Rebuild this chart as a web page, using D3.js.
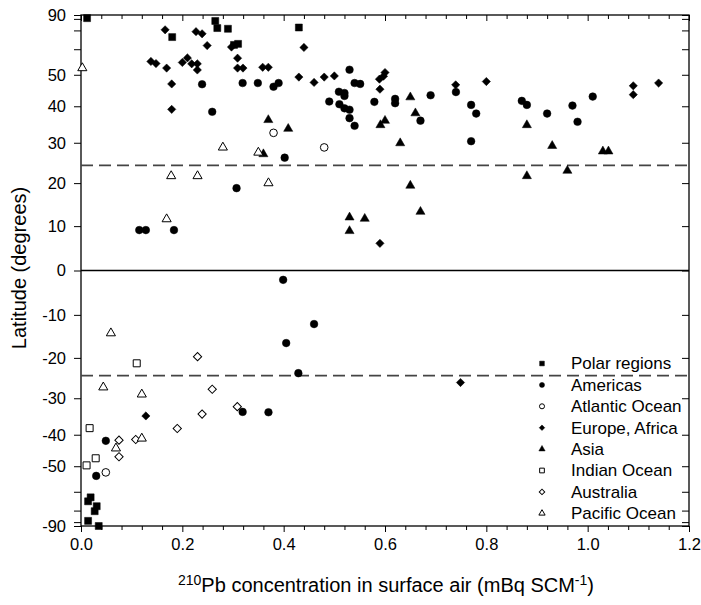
<!DOCTYPE html>
<html><head><meta charset="utf-8">
<script src="https://cdn.jsdelivr.net/npm/d3@7"></script>
<style>body{margin:0;background:#fff}svg{display:block}text{font-family:"Liberation Sans",Arial,sans-serif;fill:#000}</style>
</head><body><svg id="c" width="701" height="605"></svg>
<script>
// ---- data: [concentration (mBq SCM-1), latitude (deg)] ----
const polar = [[0.012,81],[0.18,66],[0.265,77.6],[0.269,71.6],[0.29,71.1],[0.302,62],[0.31,62.5],[0.43,72],
  [0.019,-62.6],[0.014,-64.6],[0.031,-67.3],[0.027,-70.4],[0.014,-78.5],[0.035,-89.5]];
const americas = [[0.239,46.8],[0.259,38.4],[0.307,18.8],[0.319,47.2],[0.349,47.2],[0.38,46.0],[0.39,47.2],[0.402,26.2],
  [0.53,51.8],[0.509,44.4],[0.52,44.0],[0.52,43.1],[0.49,41.4],[0.51,40.6],[0.52,39.4],[0.53,39.0],[0.53,36.6],[0.54,34.5],
  [0.54,47.2],[0.551,46.9],[0.579,41.3],[0.62,42.2],[0.62,40.9],[0.67,35.9],[0.69,43.3],[0.74,44.3],[0.77,40.4],[0.78,37.9],
  [0.77,30.4],[0.87,41.6],[0.88,40.4],[0.92,37.9],[0.97,40.2],[0.98,35.6],[1.01,42.9],[0.115,9.1],[0.128,9.1],[0.1835,9.1],
  [0.399,-2.1],[0.46,-12.1],[0.405,-16.5],[0.429,-23.7],[0.319,-33.6],[0.37,-33.7],[0.049,-41.8],[0.03,-53.5]];
const atlantic = [[0.38,32.6],[0.48,28.8],[0.049,-52.2]];
const europeAfrica = [[0.166,70.4],[0.227,69.2],[0.239,67.9],[0.249,61.7],[0.297,61.0],[0.138,54.9],[0.148,54.1],[0.169,52.4],
  [0.200,54.5],[0.210,56.3],[0.2185,54.0],[0.2296,54.0],[0.2296,51.7],[0.179,46.9],[0.179,39.1],[0.309,56.2],[0.309,52.4],
  [0.3197,52.4],[0.3586,52.7],[0.3697,52.7],[0.44,60.8],[0.43,49.2],[0.46,47.4],[0.48,49.2],[0.50,49.6],[0.589,48.5],
  [0.60,50.8],[0.597,49.5],[0.59,45.2],[0.7395,46.6],[0.80,47.7],[1.09,46.3],[1.09,43.5],[1.14,47.2],[0.59,6.1],
  [0.749,-26.0],[0.128,-34.7]];
const asia = [[0.3697,36.1],[0.409,33.7],[0.36,27.1],[0.65,42.7],[0.66,38.0],[0.60,35.9],[0.591,34.7],[0.63,29.9],[0.65,19.4],
  [0.88,34.7],[0.88,21.7],[0.93,29.2],[0.96,23.0],[1.03,27.8],[1.041,27.8],[0.53,12.0],[0.56,11.7],[0.53,8.9],[0.67,13.3]];
const indian = [[0.11,-21.3],[0.017,-38.1],[0.029,-47.3],[0.011,-49.7]];
const australia = [[0.23,-19.7],[0.259,-27.7],[0.239,-34.2],[0.19,-38.2],[0.108,-41.4],[0.075,-41.6],[0.075,-46.8],[0.3085,-32.2]];
const pacific = [[0.0026,52.4],[0.28,28.8],[0.178,21.7],[0.23,21.7],[0.35,27.5],[0.37,20.0],[0.169,11.6],[0.059,-14.2],
  [0.044,-27.2],[0.12,-29.0],[0.12,-41.1],[0.069,-44.1]];

const seriesNames = ["Polar regions","Americas","Atlantic Ocean","Europe, Africa","Asia","Indian Ocean","Australia","Pacific Ocean"];
const seriesData = [polar, americas, atlantic, europeAfrica, asia, indian, australia, pacific];
const seriesShape = ["square","circle","circle","diamond","triangle","square","diamond","triangle"];
const seriesFilled = [true,true,false,true,true,false,false,false];

const xTickValues = [0,0.2,0.4,0.6,0.8,1.0,1.2];
const xMinorTicks = d3.range(0,1.2001,0.04);
const latTicks = d3.range(-90,91,10);
const latLabels = [-90,-50,-40,-30,-20,-10,0,10,20,30,40,50,90];
const tropicLat = 24.3;

// ---- layout ----
const L=81, R=689, T=15, B=526;
const svg = d3.select("#c");
const rad = Math.PI/180;
const x = d3.scaleLinear().domain([0,1.2]).range([L,R]);
const ys = d3.scaleLinear().domain([-1,1]).range([B,T]); // sine-of-latitude scale
const y = lat => ys(Math.sin(lat*rad));
const isMinor = v => Math.abs(v/0.2-Math.round(v/0.2))>1e-6;

// axes
svg.append("g").attr("transform",`translate(0,${B})`)
  .call(d3.axisBottom(x).tickValues(xTickValues).tickFormat(d3.format(".1f")).tickSize(6).tickPadding(6));
svg.append("g").attr("transform",`translate(0,${B})`)
  .call(d3.axisBottom(x).tickValues(xMinorTicks.filter(isMinor)).tickFormat("").tickSize(4));
svg.append("g").attr("transform",`translate(0,${T})`)
  .call(d3.axisBottom(x).tickValues(xTickValues).tickFormat("").tickSize(6));
svg.append("g").attr("transform",`translate(0,${T})`)
  .call(d3.axisBottom(x).tickValues(xMinorTicks.filter(isMinor)).tickFormat("").tickSize(4));
svg.append("g").attr("transform",`translate(${L},0)`)
  .call(d3.axisLeft(ys).tickValues(latTicks.map(d=>Math.sin(d*rad)))
    .tickFormat((d,i)=> latLabels.includes(latTicks[i]) ? String(latTicks[i]) : "").tickSize(7).tickPadding(8));
svg.append("g").attr("transform",`translate(${R},0)`)
  .call(d3.axisRight(ys).tickValues(latTicks.map(d=>Math.sin(d*rad))).tickFormat("").tickSize(-7));
svg.selectAll(".domain").remove();
svg.selectAll(".tick line").attr("stroke","#000").attr("stroke-width",1);
svg.selectAll(".tick text").style("font-size","16.5px").attr("fill","#000");
// frame
svg.append("rect").attr("x",L).attr("y",T).attr("width",R-L).attr("height",B-T)
  .attr("fill","none").attr("stroke","#000").attr("stroke-width",1.3);

// reference lines
svg.append("line").attr("x1",L).attr("x2",R).attr("y1",y(0)).attr("y2",y(0)).attr("stroke","#000").attr("stroke-width",1.4);
[tropicLat,-tropicLat].forEach(l=>svg.append("line").attr("x1",L).attr("x2",R).attr("y1",y(l)).attr("y2",y(l))
  .attr("stroke","#444").attr("stroke-width",1.6).attr("stroke-dasharray","12,6"));

// symbols
function symPath(shape, big){
  if(shape==="square") return d3.symbol(d3.symbolSquare, big?49:22)();
  if(shape==="circle") return d3.symbol(d3.symbolCircle, big?46:20)();
  if(shape==="diamond") return d3.symbol(d3.symbolSquare, big?34:15)();
  return d3.symbol(d3.symbolTriangle, big?36:17)();
}
seriesData.forEach((data,si)=>{
  const shape=seriesShape[si], filled=seriesFilled[si];
  svg.append("g").selectAll("path").data(data).join("path")
    .attr("d",symPath(shape,true))
    .attr("transform",d=>`translate(${x(d[0])},${y(d[1])})`+(shape==="diamond"?" rotate(45)":""))
    .attr("fill",filled?"#000":"#fff").attr("stroke","#000").attr("stroke-width",filled?0.5:1);
});

// legend
const lg = svg.append("g");
seriesNames.forEach((nm,i)=>{
  const cy = 363.5 + i*21.4;
  const shape=seriesShape[i], filled=seriesFilled[i];
  lg.append("path").attr("d",symPath(shape,false))
    .attr("transform",`translate(542,${cy})`+(shape==="diamond"?" rotate(45)":""))
    .attr("fill",filled?"#000":"#fff").attr("stroke","#000").attr("stroke-width",filled?0.5:1);
  lg.append("text").attr("x",571).attr("y",cy).attr("dy","0.35em").style("font-size","17px").text(nm);
});

// axis titles
svg.append("text").attr("transform","translate(26,268) rotate(-90)").attr("text-anchor","middle")
  .style("font-size","20px").text("Latitude (degrees)");
const xt = svg.append("text").attr("x",386).attr("y",592).attr("text-anchor","middle").style("font-size","20px");
xt.append("tspan").attr("dy","-7").style("font-size","14px").text("210");
xt.append("tspan").attr("dy","7").text("Pb concentration in surface air (mBq SCM");
xt.append("tspan").attr("dy","-7").style("font-size","14px").text("-1");
xt.append("tspan").attr("dy","7").text(")");
</script></body></html>
